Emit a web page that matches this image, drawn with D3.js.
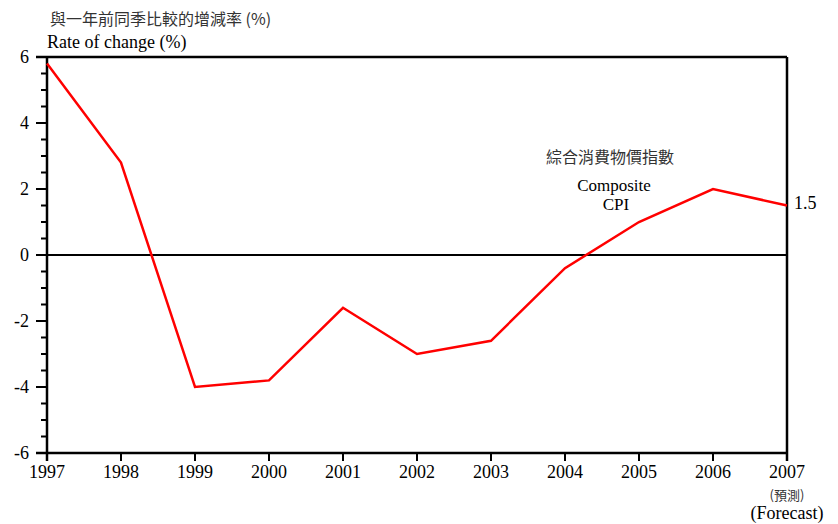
<!DOCTYPE html>
<html><head><meta charset="utf-8">
<script src="https://cdn.jsdelivr.net/npm/d3@7"></script>
<style>body{margin:0;background:#fff}</style>
</head><body>
<svg id="c" width="838" height="524"></svg>
<script>
const years = [1997,1998,1999,2000,2001,2002,2003,2004,2005,2006,2007];
const cpi = [5.8,2.8,-4.0,-3.8,-1.6,-3.0,-2.6,-0.4,1.0,2.0,1.5];
const yTicks = [-6,-4,-2,0,2,4,6];
const yMinor = d3.range(-6,6.01,0.5);

const svg = d3.select("#c");
const L=47,R=787,T=57,B=453;
const x = d3.scaleLinear().domain([1997,2007]).range([L,R]);
const y = d3.scaleLinear().domain([-6,6]).range([B,T]);
const serif = "'Liberation Serif','Times New Roman',serif";
const cjk = "'Noto Sans CJK TC','Noto Sans CJK SC',sans-serif";

// frame
svg.append("line").attr("x1",36).attr("x2",R).attr("y1",T).attr("y2",T).attr("stroke","#000").attr("stroke-width",2.5);
svg.append("line").attr("x1",36).attr("x2",R).attr("y1",B).attr("y2",B).attr("stroke","#000").attr("stroke-width",2.5);
svg.append("line").attr("x1",L).attr("x2",L).attr("y1",T).attr("y2",B+8).attr("stroke","#000").attr("stroke-width",2.5);
svg.append("line").attr("x1",R).attr("x2",R).attr("y1",T).attr("y2",B+8).attr("stroke","#000").attr("stroke-width",2.5);
svg.append("line").attr("x1",36).attr("x2",R).attr("y1",y(0)).attr("y2",y(0)).attr("stroke","#000").attr("stroke-width",2);

// y ticks
svg.selectAll(".ym").data(yMinor).enter().append("line")
  .attr("x1",d=>yTicks.includes(d)?36:41).attr("x2",L)
  .attr("y1",d=>y(d)).attr("y2",d=>y(d)).attr("stroke","#000").attr("stroke-width",2);
svg.selectAll(".yl").data(yTicks).enter().append("text")
  .attr("x",29).attr("y",d=>y(d)+6).attr("text-anchor","end")
  .attr("font-family",serif).attr("font-size",18).text(d=>d);

// x ticks
svg.selectAll(".xt").data(years).enter().append("line")
  .attr("x1",d=>x(d)).attr("x2",d=>x(d)).attr("y1",B).attr("y2",B+8)
  .attr("stroke","#000").attr("stroke-width",2);
svg.selectAll(".xl").data(years).enter().append("text")
  .attr("x",d=>x(d)).attr("y",B+25).attr("text-anchor","middle")
  .attr("font-family",serif).attr("font-size",18).text(d=>d);

// line
const line = d3.line().x((d,i)=>x(years[i])).y(d=>y(d));
svg.append("path").datum(cpi).attr("d",line).attr("fill","none")
  .attr("stroke","#ff0000").attr("stroke-width",2.5).attr("stroke-linejoin","miter");

// texts
svg.append("text").attr("x",50).attr("y",25).attr("font-family",cjk).attr("font-size",16).attr("fill","#333").text("與一年前同季比較的增減率 (%)");
svg.append("text").attr("x",47).attr("y",48).attr("font-family",serif).attr("font-size",18).text("Rate of change (%)");
svg.append("text").attr("x",610).attr("y",163).attr("text-anchor","middle").attr("font-family",cjk).attr("font-size",16).attr("fill","#333").text("綜合消費物價指數");
svg.append("text").attr("x",614).attr("y",191).attr("text-anchor","middle").attr("font-family",serif).attr("font-size",17).text("Composite");
svg.append("text").attr("x",616).attr("y",210).attr("text-anchor","middle").attr("font-family",serif).attr("font-size",17).text("CPI");
svg.append("text").attr("x",794).attr("y",209).attr("font-family",serif).attr("font-size",18).text(cpi[cpi.length-1]);
svg.append("text").attr("x",x(2007)).attr("y",500).attr("text-anchor","middle").attr("font-family",cjk).attr("font-size",13).attr("fill","#333").text("(預測)");
svg.append("text").attr("x",x(2007)).attr("y",519).attr("text-anchor","middle").attr("font-family",serif).attr("font-size",18).text("(Forecast)");
</script>
</body></html>
